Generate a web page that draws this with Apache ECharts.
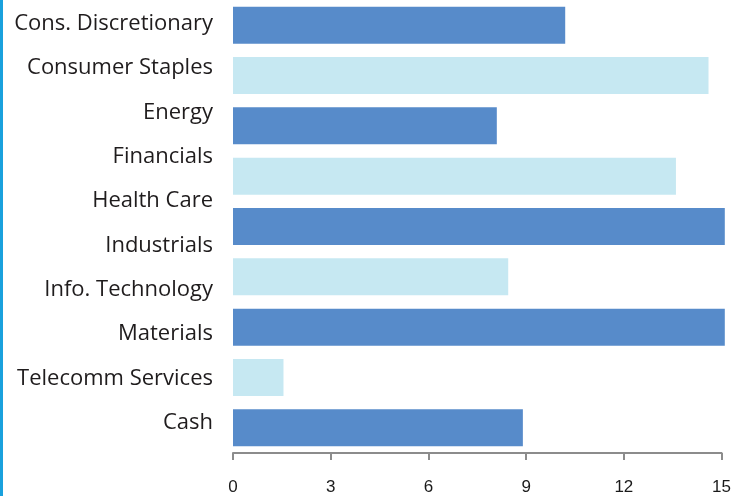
<!DOCTYPE html>
<html>
<head>
<meta charset="utf-8">
<script src="https://cdn.jsdelivr.net/npm/echarts@6/dist/echarts.min.js"></script>
<style>
html,body{margin:0;padding:0;background:#fff;}
#chart{width:734px;height:496px;}
</style>
</head>
<body>
<div id="chart"></div>
<script>
var labelCategories = ["Cons. Discretionary","Consumer Staples","Energy","Financials","Health Care","Industrials","Info. Technology","Materials","Telecomm Services","Cash"];
var barSlots = ["b1","b2","b3","b4","b5","b6","b7","b8","b9"];
var barValues = [10.2, 14.6, 8.1, 13.6, 15.1, 8.45, 15.1, 1.55, 8.9];
var xTicks = [0, 3, 6, 9, 12, 15];

var DARK = "#578bca";
var LIGHT = "#c6e8f2";

var chart = echarts.init(document.getElementById('chart'), null, {renderer: 'canvas'});
chart.setOption({
  animation: false,
  backgroundColor: '#ffffff',
  grid: [
    {left: 233, right: 11, top: -2, height: 455.6, containLabel: false},
    {left: 233, right: 11, top: 1.5, height: 443.3, containLabel: false}
  ],
  xAxis: [
    {
      type: 'value', gridIndex: 0, min: xTicks[0], max: xTicks[xTicks.length-1], interval: 3,
      splitLine: {show: false},
      axisLine: {show: true, lineStyle: {color: '#8c8c8c', width: 2}},
      axisTick: {show: true, length: 7, lineStyle: {color: '#8c8c8c', width: 2}},
      axisLabel: {margin: 26, fontSize: 17, color: '#1a1a1a', fontFamily: 'Liberation Sans'}
    },
    {type: 'value', gridIndex: 1, min: 0, max: 15, show: false}
  ],
  yAxis: [
    {
      type: 'category', gridIndex: 0, data: barSlots, inverse: true,
      axisLine: {show: false}, axisTick: {show: false}, axisLabel: {show: false}, splitLine: {show: false}
    },
    {
      type: 'category', gridIndex: 1, data: labelCategories, inverse: true,
      axisLine: {show: false}, axisTick: {show: false}, splitLine: {show: false},
      axisLabel: {margin: 20, fontSize: 22, color: '#1f1c1d', fontFamily: 'Open Sans'}
    }
  ],
  series: [
    {
      type: 'bar', xAxisIndex: 0, yAxisIndex: 0, barWidth: 37, clip: false,
      data: barValues.map(function(v, i){ return {value: v, itemStyle: {color: i % 2 === 0 ? DARK : LIGHT}}; })
    }
  ],
  graphic: [
    {type: 'rect', left: 0, top: 0, shape: {width: 3, height: 496}, style: {fill: '#19a1dd'}}
  ]
});
</script>
</body>
</html>
